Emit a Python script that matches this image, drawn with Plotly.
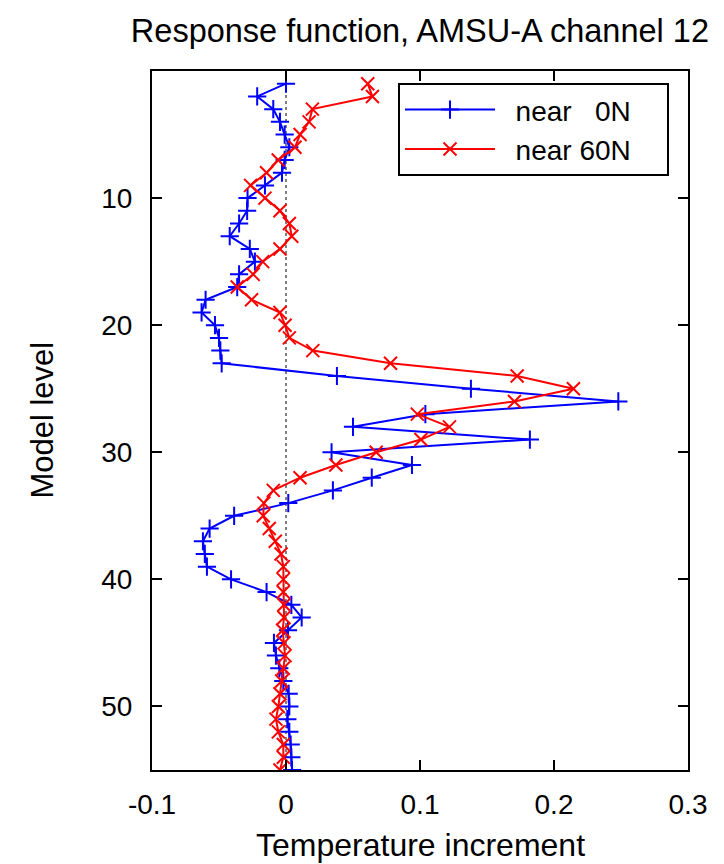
import plotly.graph_objects as go

levels = list(range(1, 56))

near_0N = [
    0.000, -0.0215, -0.0095, -0.0045, -0.001, 0.0025, -0.001, -0.003, -0.0157, -0.0287,
    -0.029, -0.035, -0.042, -0.027, -0.0232, -0.035, -0.0364, -0.060, -0.063, -0.053,
    -0.050, -0.049, -0.048, 0.038, 0.138, 0.248, 0.104, 0.050, 0.182, 0.034,
    0.094, 0.064, 0.035, 0.0017, -0.0387, -0.057, -0.062, -0.0606, -0.059, -0.041,
    -0.0145, 0.004, 0.0117, 0.0015, -0.009, -0.0075, -0.005, -0.002, 0.002, 0.0025,
    0.001, 0.0025, 0.0035, 0.004, 0.0045,
]

near_60N = [
    0.061, 0.0645, 0.0197, 0.0172, 0.0105, 0.0067, -0.0058, -0.0145, -0.0264, -0.0157,
    -0.0045, 0.0025, 0.0043, -0.0045, -0.0174, -0.0245, -0.0364, -0.0257, -0.0045, -0.0007,
    0.0025, 0.020, 0.078, 0.1725, 0.2145, 0.1705, 0.098, 0.122, 0.1007, 0.0673,
    0.0372, 0.0105, -0.0095, -0.0165, -0.017, -0.0125, -0.008, -0.0037, -0.002, -0.002,
    -0.002, -0.0015, -0.0015, -0.0025, -0.0015, -0.0007, -0.002, -0.0032, -0.0045, -0.0057,
    -0.0075, -0.0057, -0.002, -0.002, -0.0045,
]

x_ticks = [-0.1, 0, 0.1, 0.2, 0.3]
x_ticktext = ["-0.1", "0", "0.1", "0.2", "0.3"]
y_ticks = [10, 20, 30, 40, 50]

FONT = "Liberation Sans, Arial, Helvetica, sans-serif"
NB = "\u00a0"

fig = go.Figure()
fig.add_trace(go.Scatter(
    x=near_0N, y=levels, mode="lines+markers",
    name=NB * 2 + "near" + NB * 3 + "0N" + NB * 4,
    line=dict(color="#0000ff", width=2),
    marker=dict(symbol="cross-thin", size=13, line=dict(color="#0000ff", width=2)),
))
fig.add_trace(go.Scatter(
    x=near_60N, y=levels, mode="lines+markers",
    name=NB * 2 + "near 60N" + NB * 4,
    line=dict(color="#ff0000", width=2),
    marker=dict(symbol="x-thin", size=13, line=dict(color="#ff0000", width=2)),
))

fig.add_shape(type="line", xref="x", yref="paper", x0=0, x1=0, y0=0, y1=1,
              line=dict(color="black", width=1, dash="dot"), layer="below")

fig.add_annotation(text="Temperature increment", xref="paper", yref="paper",
                   x=0.5, y=-0.108, xanchor="center", yanchor="middle",
                   showarrow=False, font=dict(size=32))
fig.add_annotation(text="Model level", xref="paper", yref="paper",
                   x=-0.205, y=0.5, xanchor="center", yanchor="middle", textangle=-90,
                   showarrow=False, font=dict(size=31))

fig.update_layout(
    width=724, height=864,
    margin=dict(l=152, r=36, t=71, b=94, autoexpand=False),
    paper_bgcolor="white", plot_bgcolor="white",
    font=dict(family=FONT, size=28, color="black"),
    title=dict(text="Response function, AMSU-A channel 12", x=0.58, xanchor="center",
               y=1 - 31 / 864, yanchor="middle", font=dict(size=32.5)),
    showlegend=True,
    legend=dict(x=(669 - 152) / 536, xanchor="right", y=0.983, yanchor="top",
                bgcolor="white", bordercolor="black", borderwidth=2,
                font=dict(size=28), tracegroupgap=0, itemwidth=90),
)
fig.update_xaxes(
    range=[-0.1, 0.3], tickvals=x_ticks, ticktext=x_ticktext,
    ticks="inside", ticklen=10, tickwidth=1.5, tickcolor="black",
    showline=True, linewidth=2, linecolor="black", mirror="ticks",
    showgrid=False, zeroline=False, ticklabelstandoff=8,
)
fig.update_yaxes(
    range=[55, 0], tickvals=y_ticks,
    ticks="inside", ticklen=10, tickwidth=1.5, tickcolor="black",
    showline=True, linewidth=2, linecolor="black", mirror="ticks",
    showgrid=False, zeroline=False, ticklabelstandoff=12,
)

fig.write_html("out.html", config={"displayModeBar": False},
               post_script="document.body.style.margin='0';document.body.style.overflow='hidden';")
